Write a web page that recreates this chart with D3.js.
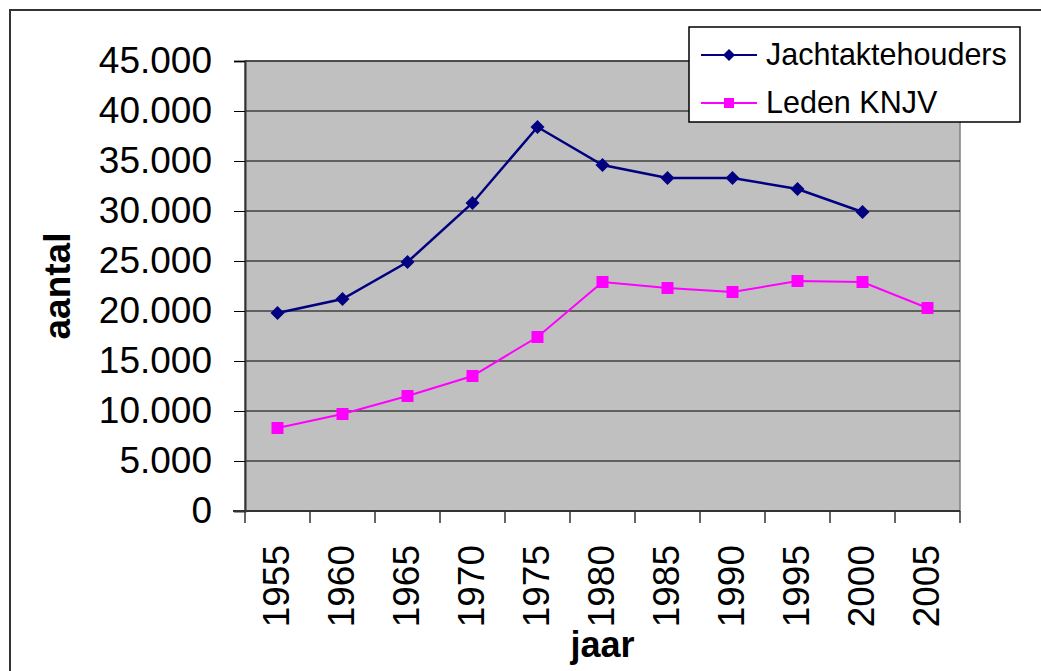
<!DOCTYPE html>
<html>
<head>
<meta charset="utf-8">
<script src="https://cdn.jsdelivr.net/npm/d3@7"></script>
<style>
  html, body { margin: 0; padding: 0; background: #fff; }
  svg { display: block; font-family: "Liberation Sans", Arial, sans-serif; }
</style>
</head>
<body>
<svg id="chart" width="1041" height="671"></svg>
<script>
// ── Data ──────────────────────────────────────────────────
const years = ['1955', '1960', '1965', '1970', '1975', '1980', '1985', '1990', '1995', '2000', '2005'];
const jachtakte = [19800, 21200, 24900, 30800, 38400, 34600, 33300, 33300, 32200, 29900, null];
const ledenKNJV = [8300, 9700, 11500, 13500, 17400, 22900, 22300, 21900, 23000, 22900, 20300];
const yTicks = [0, 5000, 10000, 15000, 20000, 25000, 30000, 35000, 40000, 45000];

const seriesList = [
  { name: 'Jachtaktehouders', values: jachtakte, color: '#000080', marker: 'diamond' },
  { name: 'Leden KNJV',       values: ledenKNJV, color: '#FF00FF', marker: 'square' }
];

// ── Setup ─────────────────────────────────────────────────
const svg = d3.select('#chart');
const plot = { left: 245, right: 960, top: 61, bottom: 511 };

const x = d3.scaleBand().domain(years).range([plot.left, plot.right]).padding(0);
const y = d3.scaleLinear().domain([0, 45000]).range([plot.bottom, plot.top]);

const fmt = v => d3.format(',')(v).replace(/,/g, '.');

// outer frame
svg.append('rect')
  .attr('x', 10).attr('y', 10)
  .attr('width', 1100).attr('height', 700)
  .attr('fill', 'none').attr('stroke', '#333').attr('stroke-width', 2);

// plot area
svg.append('rect')
  .attr('x', plot.left).attr('y', plot.top)
  .attr('width', plot.right - plot.left).attr('height', plot.bottom - plot.top)
  .attr('fill', '#C0C0C0').attr('stroke', '#808080').attr('stroke-width', 1.5);

// gridlines
svg.append('g')
  .selectAll('line')
  .data(yTicks.filter(d => d > 0))
  .join('line')
  .attr('x1', plot.left).attr('x2', plot.right)
  .attr('y1', d => y(d)).attr('y2', d => y(d))
  .attr('stroke', '#000').attr('stroke-width', 1);

// ── Y axis ────────────────────────────────────────────────
const yAxis = svg.append('g')
  .attr('transform', `translate(${plot.left},0)`)
  .call(d3.axisLeft(y).tickValues(yTicks).tickFormat(fmt).tickSize(11).tickPadding(22));
yAxis.select('.domain').attr('stroke', '#333').attr('stroke-width', 2);
yAxis.selectAll('.tick line').attr('stroke', '#000');
yAxis.selectAll('text')
  .attr('font-size', 37).attr('fill', '#000')
  .attr('font-family', '"Liberation Sans", Arial, sans-serif');

// ── X axis (ticks between categories) ─────────────────────
const xAxisG = svg.append('g');
xAxisG.append('line')
  .attr('x1', plot.left - 12).attr('x2', plot.right)
  .attr('y1', plot.bottom).attr('y2', plot.bottom)
  .attr('stroke', '#333').attr('stroke-width', 2);
const boundaries = years.map(d => x(d)).concat([x(years[years.length - 1]) + x.bandwidth()]);
xAxisG.selectAll('line.xt')
  .data(boundaries)
  .join('line')
  .attr('class', 'xt')
  .attr('x1', d => d).attr('x2', d => d)
  .attr('y1', plot.bottom).attr('y2', plot.bottom + 12)
  .attr('stroke', '#333').attr('stroke-width', 1.5);
xAxisG.selectAll('text')
  .data(years)
  .join('text')
  .attr('transform', d => `translate(${x(d) + x.bandwidth() / 2 - 1},545) rotate(-90)`)
  .attr('text-anchor', 'end')
  .attr('dy', '0.35em')
  .attr('font-size', 37)
  .text(d => d);

// axis titles
svg.append('text')
  .attr('x', (plot.left + plot.right) / 2).attr('y', 657)
  .attr('text-anchor', 'middle')
  .attr('font-size', 36).attr('font-weight', 'bold')
  .text('jaar');

svg.append('text')
  .attr('transform', 'translate(70,286) rotate(-90)')
  .attr('text-anchor', 'middle')
  .attr('font-size', 37).attr('font-weight', 'bold')
  .text('aantal');

// ── Lines & markers ───────────────────────────────────────
const cx = i => x(years[i]) + x.bandwidth() / 2;

function drawMarker(g, type, color, size) {
  if (type === 'diamond') {
    g.append('path')
      .attr('d', `M0,${-size}L${size},0L0,${size}L${-size},0Z`)
      .attr('fill', color);
  } else {
    g.append('rect')
      .attr('x', -size).attr('y', -size)
      .attr('width', size * 2).attr('height', size * 2)
      .attr('fill', color);
  }
}

seriesList.forEach(s => {
  const line = d3.line()
    .defined(d => d != null)
    .x((d, i) => cx(i))
    .y(d => y(d));

  svg.append('path')
    .datum(s.values)
    .attr('d', line)
    .attr('fill', 'none')
    .attr('stroke', s.color)
    .attr('stroke-width', s.marker === 'diamond' ? 2.5 : 2);

  s.values.forEach((v, i) => {
    if (v == null) return;
    const g = svg.append('g').attr('transform', `translate(${cx(i)},${y(v)})`);
    drawMarker(g, s.marker, s.color, s.marker === 'diamond' ? 7 : 6);
  });
});

// ── Legend ────────────────────────────────────────────────
const legend = svg.append('g');
legend.append('rect')
  .attr('x', 689).attr('y', 27)
  .attr('width', 331).attr('height', 95)
  .attr('fill', '#fff').attr('stroke', '#000').attr('stroke-width', 1.5);

seriesList.forEach((s, i) => {
  const ly = 55 + i * 48;
  legend.append('line')
    .attr('x1', 701).attr('x2', 757)
    .attr('y1', ly).attr('y2', ly)
    .attr('stroke', s.color).attr('stroke-width', 2);
  const g = legend.append('g').attr('transform', `translate(729,${ly})`);
  drawMarker(g, s.marker, s.color, s.marker === 'diamond' ? 6 : 5);
  legend.append('text')
    .attr('x', 766).attr('y', ly + 10)
    .attr('font-size', 30.5)
    .text(s.name);
});
</script>
</body>
</html>
